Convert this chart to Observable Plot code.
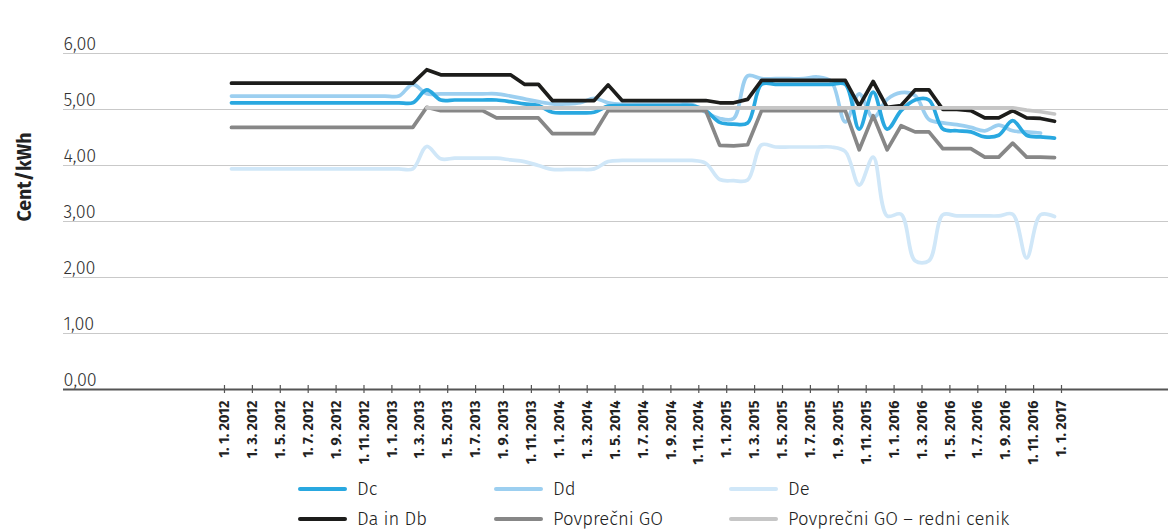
<!DOCTYPE html>
<html><head><meta charset="utf-8">
<script src="https://cdn.jsdelivr.net/npm/d3@7"></script>
<script src="https://cdn.jsdelivr.net/npm/@observablehq/plot@0.6"></script>
<style>
body{margin:0;background:#fff;width:1168px;height:529px;overflow:hidden;position:relative;font-family:"Fira Sans",Roboto,"Open Sans",sans-serif}
#topline{position:absolute;left:9px;top:11px;width:1159px;height:2px;background:#777}
#chart{position:absolute;left:0;top:0}
#legend{position:absolute;left:0;top:470px;width:1168px;height:59px}
.item{position:absolute;display:flex;align-items:center;height:30px;font-size:18.5px;font-weight:300;color:#222;white-space:nowrap}
.sw{width:49px;height:4px;border-radius:2px;margin-right:10px}
</style></head><body>
<div id="topline"></div><div id="chart"></div><div id="legend"></div>
<script>
// x tick labels (every 2 months from 1. 1. 2012 to 1. 1. 2017)
const xTickLabels = ["1. 1. 2012","1. 3. 2012","1. 5. 2012","1. 7. 2012","1. 9. 2012","1. 11. 2012",
"1. 1. 2013","1. 3. 2013","1. 5. 2013","1. 7. 2013","1. 9. 2013","1. 11. 2013",
"1. 1. 2014","1. 3. 2014","1. 5. 2014","1. 7. 2014","1. 9. 2014","1. 11. 2014",
"1. 1. 2015","1. 3. 2015","1. 5. 2015","1. 7. 2015","1. 9. 2015","1. 11. 2015",
"1. 1. 2016","1. 3. 2016","1. 5. 2016","1. 7. 2016","1. 9. 2016","1. 11. 2016","1. 1. 2017"];
const yTicks = [0,1,2,3,4,5,6];

const seriesNames = ["Dc","Dd","De","Da in Db","Povprečni GO","Povprečni GO – redni cenik"];
const seriesColors = ["#29a8e0","#9ccff0","#d0e7f8","#1d1d1b","#878787","#c6c6c6"];

// monthly values Jan 2012 .. Dec 2016 (cent/kWh)
const dc = [5.12,5.12,5.12,5.12,5.12,5.12,5.12,5.12,5.12,5.12,5.12,5.12,5.12,5.12,
5.35,5.17,5.17,5.17,5.17,5.17,
5.14,5.10,5.07,4.95,4.94,4.94,4.95,5.06,
5.07,5.07,5.07,5.07,5.07,5.07,
4.98,4.77,4.74,4.76,
5.45,5.45,5.45,5.45,5.45,5.45,5.45,
4.65,5.31,4.65,4.98,5.17,5.17,4.65,4.62,4.60,4.51,4.54,4.80,4.54,4.51,4.49];
const dd = [5.24,5.24,5.24,5.24,5.24,5.24,5.24,5.24,5.24,5.24,5.24,5.24,5.24,
5.45,5.28,5.28,5.28,5.28,5.28,5.28,
5.24,5.19,5.14,5.10,5.10,5.12,5.20,5.12,
5.09,5.09,5.09,5.09,5.09,5.09,
4.95,4.84,4.84,5.60,
5.55,5.55,5.55,5.55,
5.58,5.50,4.78,5.28,4.85,5.18,5.30,5.25,4.82,4.76,4.73,4.68,4.62,4.72,4.62,4.60,4.58,null];
const de = [3.94,3.94,3.94,3.94,3.94,3.94,3.94,3.94,3.94,3.94,3.94,3.94,3.94,3.94,
4.34,4.12,4.13,4.13,4.13,4.13,
4.10,4.07,4.00,3.93,3.93,3.93,3.94,4.07,
4.09,4.09,4.09,4.09,4.09,4.09,
4.04,3.75,3.73,3.74,
4.37,4.33,4.33,4.33,4.33,4.33,
4.25,3.65,4.15,3.10,3.13,2.30,2.30,3.12,3.10,3.10,3.10,3.10,3.13,2.35,3.12,3.09];
const daDb = [5.47,5.47,5.47,5.47,5.47,5.47,5.47,5.47,5.47,5.47,5.47,5.47,5.47,5.47,
5.71,5.62,5.62,5.62,5.62,5.62,5.62,
5.45,5.45,5.16,5.16,5.16,5.16,5.44,
5.16,5.16,5.16,5.16,5.16,5.16,5.16,
5.12,5.12,5.18,
5.52,5.52,5.52,5.52,5.52,5.52,5.52,
5.06,5.50,5.04,5.07,5.35,5.35,5.00,5.00,4.98,4.85,4.85,4.98,4.85,4.84,4.79];
const povGO = [4.68,4.68,4.68,4.68,4.68,4.68,4.68,4.68,4.68,4.68,4.68,4.68,4.68,4.68,
5.04,4.98,4.98,4.98,4.98,
4.85,4.85,4.85,4.85,
4.57,4.57,4.57,4.57,
4.98,4.98,4.98,4.98,4.98,4.98,4.98,4.98,
4.36,4.35,4.37,
4.98,4.98,4.98,4.98,4.98,4.98,4.98,
4.28,4.89,4.28,4.71,4.60,4.60,4.30,4.30,4.30,4.15,4.15,4.40,4.15,4.15,4.14];
const povGORedni = [null,null,null,null,null,null,null,null,null,null,null,null,null,null,
5.03,5.03,5.03,5.03,5.03,5.03,5.03,5.03,5.03,5.03,5.03,5.03,5.03,5.03,5.03,5.03,
5.03,5.03,5.03,5.03,5.03,5.03,5.03,5.03,5.03,5.03,5.03,5.03,5.03,5.03,5.03,5.03,
5.03,5.03,5.03,5.03,5.03,5.03,5.03,5.03,5.03,5.03,5.03,4.99,4.96,4.92];

const seriesValues = [dc, dd, de, daDb, povGO, povGORedni];
const curves = ["catmull-rom","catmull-rom","catmull-rom","linear","linear","linear"];
const drawOrder = [2,1,0,3,4,5];

// each month's value sits in the middle of its month slot
const toRows = (vals) => vals.map((v, i) => ({m: i + 0.5, v}));
const tickRows = xTickLabels.map((label, k) => ({m: k * 2, label}));
const fmt = (v) => v.toFixed(2).replace(".", ",");

const lineMarks = drawOrder.map((s) => Plot.line(toRows(seriesValues[s]), {
  x: "m", y: "v", curve: curves[s], stroke: seriesColors[s], strokeWidth: 3.7,
  strokeLinejoin: "round", strokeLinecap: "round"
}));

const chart = Plot.plot({
  width: 1168, height: 470,
  marginLeft: 63, marginRight: 0, marginTop: 53, marginBottom: 81,
  x: {type: "linear", domain: [-11.54, 67.67], axis: null},
  y: {domain: [0, 6], axis: null},
  style: {fontFamily: '"Fira Sans", Roboto, sans-serif', background: "#fff", overflow: "visible"},
  marks: [
    Plot.ruleY(yTicks.filter((t) => t > 0), {stroke: "#c9c9c9", strokeWidth: 1.2}),
    Plot.text(yTicks, {y: (d) => d, text: fmt, frameAnchor: "left", textAnchor: "start",
      lineAnchor: "bottom", dy: -4, fontSize: 18, fontWeight: 300, fill: "#333"}),
    Plot.text(["Cent/kWh"], {frameAnchor: "left", rotate: -90, dx: -39, fontSize: 19.5,
      fontWeight: "bold", fill: "#222"}),
    ...lineMarks,
    Plot.ruleY([0], {stroke: "#555", strokeWidth: 2}),
    Plot.ruleX(tickRows, {x: "m", y1: 0, y2: 0, insetTop: -4, insetBottom: -4, stroke: "#555", strokeWidth: 1.2}),
    Plot.text(tickRows, {x: "m", y: 0, text: "label", rotate: -90, textAnchor: "end",
      dy: 11, fontSize: 14.5, fontWeight: "bold", fill: "#222"})
  ]
});
document.getElementById("chart").appendChild(chart);

// legend: 3 columns x 2 rows
const legend = document.getElementById("legend");
const colLeft = [298, 494, 729];
seriesNames.forEach((name, s) => {
  const item = document.createElement("div");
  item.className = "item";
  item.style.left = colLeft[s % 3] + "px";
  item.style.top = (4 + Math.floor(s / 3) * 30) + "px";
  const sw = document.createElement("span");
  sw.className = "sw";
  sw.style.background = seriesColors[s];
  const tx = document.createElement("span");
  tx.textContent = name;
  item.appendChild(sw); item.appendChild(tx);
  legend.appendChild(item);
});
</script>
</body></html>
